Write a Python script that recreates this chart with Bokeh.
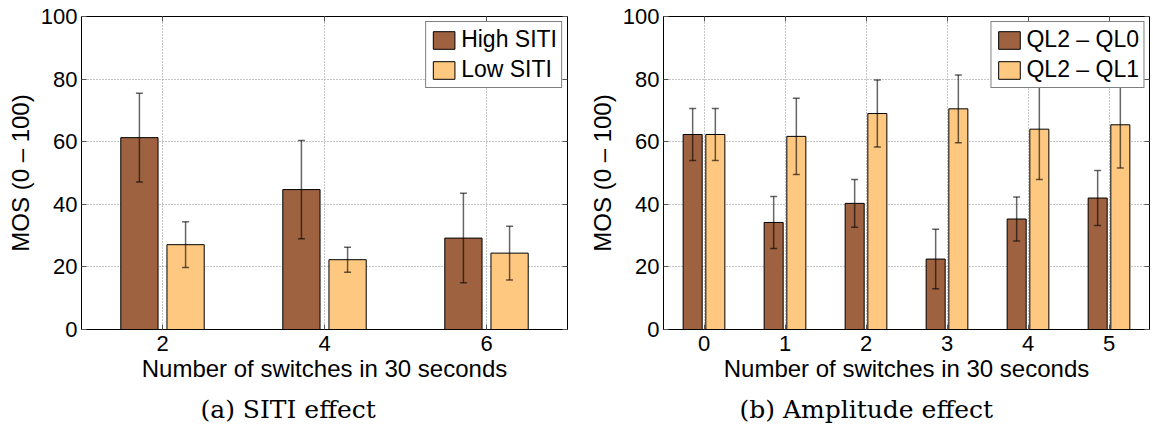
from bokeh.plotting import figure
from bokeh.models import (Range1d, Whisker, TeeHead, ColumnDataSource, Title,
                          LinearAxis, FixedTicker, CustomJSTickFormatter)
from bokeh.layouts import row
from bokeh.embed import file_html
from bokeh.resources import INLINE

# ---------------- data ----------------
y_ticks = [0, 20, 40, 60, 80, 100]

siti_switches = [2, 4, 6]
high_siti = [61.3, 44.7, 29.2]
high_siti_err = [14.2, 15.7, 14.3]
low_siti = [27.1, 22.3, 24.4]
low_siti_err = [7.3, 4.0, 8.6]

amp_switches = [0, 1, 2, 3, 4, 5]
ql2_ql0 = [62.3, 34.2, 40.3, 22.5, 35.3, 42.0]
ql2_ql0_err = [8.3, 8.3, 7.6, 9.5, 7.0, 8.8]
ql2_ql1 = [62.3, 61.7, 69.0, 70.5, 64.0, 65.4]
ql2_ql1_err = [8.3, 12.2, 10.7, 10.8, 16.1, 13.8]

series_names_a = ["High SITI", "Low SITI"]
series_names_b = ["QL2 \u2013 QL0", "QL2 \u2013 QL1"]
x_label = "Number of switches in 30 seconds"
y_label = "MOS (0 \u2013 100)"
captions = ["(a) SITI effect", "(b) Amplitude effect"]

# ---------------- style ----------------
DARK = "#9E6240"
LIGHT = "#FFC880"
SANS = "Liberation Sans"
SERIF = "DejaVu Serif"


def make_panel(xs, s1, e1, s2, e2, names, xr, offset, bar_w, width, border_l,
               border_r, caption, cap_offset):
    p = figure(width=width, height=431, output_backend="svg",
               toolbar_location=None, x_range=Range1d(*xr),
               y_range=Range1d(0, 100),
               min_border_left=border_l, min_border_right=border_r,
               min_border_top=16, min_border_bottom=102)
    p.outline_line_color = "black"
    p.outline_line_width = 1
    p.background_fill_color = "white"
    p.border_fill_color = "white"

    for vals, errs, sign, color, name in ((s1, e1, -1, DARK, names[0]),
                                          (s2, e2, 1, LIGHT, names[1])):
        xpos = [x + sign * offset for x in xs]
        src = ColumnDataSource(dict(x=xpos, top=vals,
                                    upper=[v + e for v, e in zip(vals, errs)],
                                    lower=[v - e for v, e in zip(vals, errs)]))
        p.vbar(x="x", top="top", width=bar_w, source=src, fill_color=color,
               line_color="black", line_width=1, legend_label=name)
        w = Whisker(base="x", upper="upper", lower="lower", source=src,
                    level="glyph", line_color="black", line_alpha=0.6,
                    line_width=1.5,
                    upper_head=TeeHead(size=7, line_color="black",
                                       line_alpha=0.6, line_width=1.5),
                    lower_head=TeeHead(size=7, line_color="black",
                                       line_alpha=0.6, line_width=1.5))
        p.add_layout(w)

    # axes
    p.xaxis.ticker = FixedTicker(ticks=xs)
    p.yaxis.ticker = FixedTicker(ticks=y_ticks)
    for ax in (p.xaxis, p.yaxis):
        ax.major_tick_in = 5
        ax.major_tick_out = 0
        ax.minor_tick_in = 0
        ax.minor_tick_out = 0
        ax.major_tick_line_color = "#555555"
        ax.axis_line_color = "black"
        ax.major_label_text_font = SANS
        ax.major_label_text_font_size = "22px"
        ax.major_label_text_color = "black"
        ax.axis_label_text_font = SANS
        ax.axis_label_text_font_size = "24px"
        ax.axis_label_text_font_style = "normal"
        ax.axis_label_text_color = "black"
    p.xaxis.axis_label = x_label
    p.yaxis.axis_label = y_label
    p.xaxis.major_label_standoff = 6
    p.xaxis.axis_label_standoff = 1
    p.yaxis.major_label_standoff = 4
    p.yaxis.axis_label_standoff = 4

    # mirrored ticks (matlab box style)
    empty = CustomJSTickFormatter(code="return ''")
    ra = LinearAxis(ticker=FixedTicker(ticks=y_ticks), formatter=empty,
                    major_tick_in=5, major_tick_out=0, minor_tick_in=0,
                    minor_tick_out=0, axis_line_color=None,
                    major_tick_line_color="#555555", major_label_standoff=0,
                    major_label_text_font_size="1px")
    ta = LinearAxis(ticker=FixedTicker(ticks=xs), formatter=empty,
                    major_tick_in=5, major_tick_out=0, minor_tick_in=0,
                    minor_tick_out=0, axis_line_color=None,
                    major_tick_line_color="#555555", major_label_standoff=0,
                    major_label_text_font_size="1px")
    p.add_layout(ra, "right")
    p.add_layout(ta, "above")

    # grid
    for g in (p.xgrid, p.ygrid):
        g.grid_line_color = "#8c8c8c"
        g.grid_line_dash = "1 2"
        g.grid_line_width = 1

    # legend
    lg = p.legend[0]
    lg.location = "top_right"
    lg.margin = 5
    lg.padding = 4
    lg.spacing = 3
    lg.glyph_width = 27
    lg.glyph_height = 22
    lg.label_standoff = 4
    lg.label_text_font = SANS
    lg.label_text_font_size = "23px"
    lg.label_text_color = "black"
    lg.label_height = 22
    lg.border_line_color = "black"
    lg.border_line_width = 1
    lg.background_fill_alpha = 1

    # caption
    t = Title(text=caption, align="left", offset=cap_offset,
              text_font=SERIF, text_font_size="25px",
              text_font_style="normal", text_color="black", standoff=16)
    p.add_layout(t, "below")
    return p


pa = make_panel(siti_switches, high_siti, high_siti_err, low_siti,
                low_siti_err, series_names_a, (1, 7), 0.285, 0.46, 580, 81,
                13, captions[0], 119)
pb = make_panel(amp_switches, ql2_ql0, ql2_ql0_err, ql2_ql1, ql2_ql1_err,
                series_names_b, (-0.5, 5.5), 0.14, 0.235, 573, 83, 4,
                captions[1], 76)

layout = row(pa, pb)
open("out.html", "w").write(file_html(layout, INLINE))
